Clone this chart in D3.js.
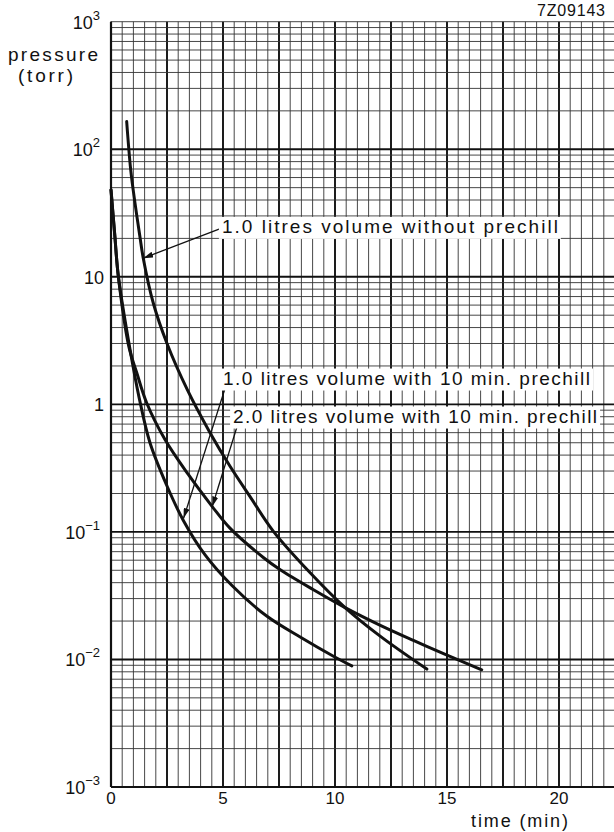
<!DOCTYPE html>
<html lang="en">
<head>
<meta charset="UTF-8">
<title>pressure vs time</title>
<script src="https://cdn.jsdelivr.net/npm/d3@7"></script>
<style>
  html, body { margin:0; padding:0; background:#fff; }
  text { font-family:"Liberation Sans", Arial, sans-serif; fill:#111; }
  .minor { stroke:#333; stroke-width:0.9; }
  .major { stroke:#111; stroke-width:1.9; }
  .curve { fill:none; stroke:#111; stroke-width:3; stroke-linecap:round; }
  .arrow { stroke:#111; stroke-width:1.3; }
</style>
</head>
<body>
<svg id="chart" width="614" height="832"></svg>
<script>
// [time (min), pressure (torr)]
const noPrechill10 = [[0.7,165],[0.88,69],[1.07,38],[1.29,20.7],[1.44,14],[1.89,6.2],[2.5,3.0],[3.4,1.31],
  [4.42,0.6],[5.3,0.33],[6.2,0.19],[7.25,0.101],[8.88,0.048],[10.45,0.0255],[12,0.0153],[14.1,0.0084]];
const prechill10 = [[0,48],[0.17,21],[0.33,10],[0.85,2.69],[1.26,1.12],[1.74,0.5],[2.5,0.229],[3.23,0.123],
  [4.2,0.066],[5.4,0.038],[6.95,0.0219],[8.5,0.0148],[9.93,0.0106],[10.75,0.0089]];
const prechill20 = [[0,48],[0.17,21],[0.33,10],[0.8,2.82],[1.15,1.77],[1.59,1.03],[2.41,0.53],[3.45,0.282],
  [4.52,0.158],[5.31,0.107],[6.8,0.063],[7.54,0.0507],[9.0,0.0355],[10.45,0.0255],[12,0.0186],
  [13.5,0.0141],[15,0.0108],[16.55,0.0083]];

const labels = ["1.0 litres volume without prechill",
                "1.0 litres volume with 10 min. prechill",
                "2.0 litres volume with 10 min. prechill"];
const labelPos = [[4.95,22.1],[5.0,1.43],[5.45,0.72]];   // text start, baseline
const labelLen = [336,367,364];
const arrowTail = [[4.94,24.1],[5.09,1.33],[5.61,0.655]];
const arrowTip  = [[1.44,14],[3.24,0.128],[4.52,0.158]];

const yExp = [-3,-2,-1,0,1,2,3];
const xTicks = [0,5,10,15,20];

const svg = d3.select("#chart");
const x = d3.scaleLinear().domain([0,22.5]).range([111,615]);
const y = d3.scaleLog().domain([1e-3,1e3]).range([787,21.7]);

// grid
const g = svg.append("g");
const vLines = d3.range(0,22.51,0.5);
g.selectAll(".v").data(vLines).enter().append("line")
  .attr("class",d=>d%2.5===0?"major":"minor")
  .attr("x1",d=>x(d)).attr("x2",d=>x(d))
  .attr("y1",y(1e3)).attr("y2",y(1e-3));
const hLines=[];
for(let e=-3;e<3;e++) for(let k=1;k<10;k++) hLines.push({v:k*Math.pow(10,e),major:k===1});
hLines.push({v:1e3,major:false});
g.selectAll(".h").data(hLines).enter().append("line")
  .attr("class",d=>d.major?"major":"minor")
  .attr("x1",x(0)).attr("x2",x(22.5))
  .attr("y1",d=>y(d.v)).attr("y2",d=>y(d.v));
g.append("line").attr("x1",x(0)).attr("x2",x(0)).attr("y1",y(1e3)).attr("y2",y(1e-3))
  .attr("stroke","#111").attr("stroke-width",2.2);
g.append("line").attr("x1",x(0)).attr("x2",x(22.5)).attr("y1",y(1e-3)).attr("y2",y(1e-3))
  .attr("stroke","#111").attr("stroke-width",2.2);

// curves
const line = d3.line().x(d=>x(d[0])).y(d=>y(d[1])).curve(d3.curveCatmullRom.alpha(0.5));
[noPrechill10,prechill10,prechill20].forEach(s=>{
  svg.append("path").attr("class","curve").attr("d",line(s));
});

// arrows
svg.append("defs").append("marker").attr("id","head")
  .attr("viewBox","0 0 10 6").attr("refX",10).attr("refY",3)
  .attr("markerWidth",10).attr("markerHeight",6).attr("markerUnits","userSpaceOnUse")
  .attr("orient","auto")
  .append("path").attr("d","M0,0L10,3L0,6Z").attr("fill","#111");
arrowTail.forEach((t,i)=>{
  svg.append("line").attr("class","arrow")
    .attr("x1",x(t[0])).attr("y1",y(t[1]))
    .attr("x2",x(arrowTip[i][0])).attr("y2",y(arrowTip[i][1]))
    .attr("marker-end","url(#head)");
});

// labels with white boxes
labels.forEach((s,i)=>{
  const lg = svg.append("g");
  const bx = lg.append("rect").attr("fill","#fff");
  const t = lg.append("text").attr("x",x(labelPos[i][0])).attr("y",y(labelPos[i][1]))
    .attr("font-size",19).attr("textLength",labelLen[i]).attr("lengthAdjust","spacing").text(s);
  const b = t.node().getBBox();
  bx.attr("x",b.x-3).attr("y",b.y+1).attr("width",b.width+6).attr("height",b.height+1);
});

// y tick labels
yExp.forEach(e=>{
  const t = svg.append("text").attr("x",e===0||e===1?104:100).attr("y",y(Math.pow(10,e))+7)
    .attr("text-anchor","end").attr("font-size",18);
  if(e===0) t.text("1");
  else if(e===1) t.text("10");
  else {
    t.append("tspan").text("10");
    t.append("tspan").attr("dy",-9).attr("font-size",13).text(e<0?"\u2212"+(-e):e);
  }
});

// x tick labels
svg.selectAll(".xt").data(xTicks).enter().append("text")
  .attr("x",d=>x(d)).attr("y",804).attr("text-anchor","middle").attr("font-size",17)
  .text(d=>d);

svg.append("text").attr("x",8).attr("y",61).attr("font-size",19).attr("textLength",90).text("pressure");
svg.append("text").attr("x",18).attr("y",82).attr("font-size",19).attr("textLength",55).text("(torr)");
svg.append("text").attr("x",471).attr("y",827).attr("font-size",18).attr("textLength",97).text("time (min)");
svg.append("text").attr("x",537).attr("y",16).attr("font-size",16).attr("textLength",68).text("7Z09143");
</script>
</body>
</html>
